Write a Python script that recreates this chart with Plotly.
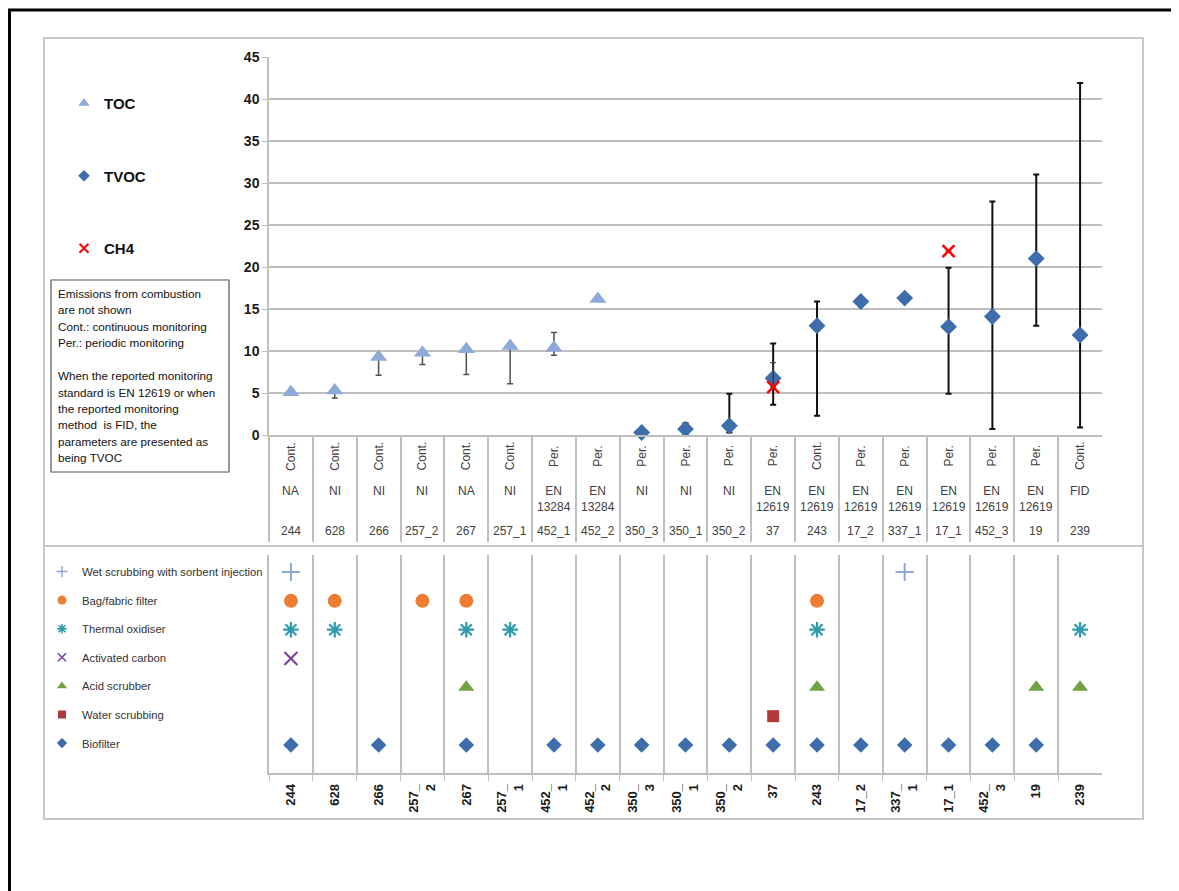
import plotly.graph_objects as go

W, H = 1179, 891
OFF = 8  # page body margin

def px(x):
    return (x - OFF) / W

def py(y):
    return 1 - (y - OFF) / H

# ---------------- data ----------------
ids = ["244", "628", "266", "257_2", "267", "257_1", "452_1", "452_2", "350_3", "350_1",
       "350_2", "37", "243", "17_2", "337_1", "17_1", "452_3", "19", "239"]
monitoring = ["Cont.", "Cont.", "Cont.", "Cont.", "Cont.", "Cont.", "Per.", "Per.", "Per.", "Per.",
              "Per.", "Per.", "Cont.", "Per.", "Per.", "Per.", "Per.", "Per.", "Cont."]
methods = ["NA", "NI", "NI", "NI", "NA", "NI", "EN<br>13284", "EN<br>13284", "NI", "NI",
           "NI", "EN<br>12619", "EN<br>12619", "EN<br>12619", "EN<br>12619", "EN<br>12619",
           "EN<br>12619", "EN<br>12619", "FID"]
bottom_ticks = ["244", "628", "266", "257_<br>2", "267", "257_<br>1", "452_<br>1", "452_<br>2",
                "350_<br>3", "350_<br>1", "350_<br>2", "37", "243", "17_2", "337_<br>1", "17_1",
                "452_<br>3", "19", "239"]

toc_ids = ["244", "628", "266", "257_2", "267", "257_1", "452_1", "452_2"]
toc_vals = [5.1, 5.3, 9.3, 9.8, 10.2, 10.6, 10.4, 16.2]
toc_plus = [None, 0, 0, 0, 0, 0, 1.8, None]
toc_minus = [None, 0.9, 2.2, 1.4, 3.0, 4.5, 0.9, None]

tvoc_ids = ["350_3", "350_1", "350_2", "37", "243", "17_2", "337_1", "17_1", "452_3", "19", "239"]
tvoc_vals = [0.3, 0.7, 1.1, 6.75, 13.0, 15.9, 16.3, 12.9, 14.1, 21.0, 11.9]
tvoc_plus = [None, 0.7, 3.8, 4.15, 2.9, None, None, 7.0, 13.7, 10.0, 30.0]
tvoc_minus = [None, 0.7, 0.8, 3.15, 10.7, None, None, 8.0, 13.4, 8.0, 11.0]

ch4_ids = ["37", "17_1"]
ch4_vals = [5.7, 21.9]
ch4_plus = [2.9, None]
ch4_minus = [0, None]

wet_scrubbing = ["244", "337_1"]
bag_filter = ["244", "628", "257_2", "267", "243"]
thermal_oxidiser = ["244", "628", "267", "257_1", "243", "239"]
activated_carbon = ["244"]
acid_scrubber = ["267", "243", "19", "239"]
water_scrubbing = ["37"]
biofilter = ["244", "266", "267", "452_1", "452_2", "350_3", "350_1", "350_2", "37", "243",
             "17_2", "337_1", "17_1", "452_3", "19"]

tech_rows = ["Biofilter", "Water scrubbing", "Acid scrubber", "Activated carbon",
             "Thermal oxidiser", "Bag/fabric filter", "Wet scrubbing with sorbent injection"]

note_lines = ["Emissions from combustion", "are not shown", "Cont.: continuous monitoring",
              "Per.: periodic monitoring", "", "When the reported monitoring",
              "standard is EN 12619 or when", "the reported monitoring",
              "method  is FID, the", "parameters are presented as", "being TVOC"]

# ---------------- styles ----------------
SANS = "Liberation Sans"
TOC_C = "#8eaadb"
TVOC_C = "#3d6eab"
GRID_C = "#bfbfbf"

def open_mk(symbol, size, color, width):
    return dict(symbol=symbol, size=size, color=color, line=dict(color=color, width=width))

fig = go.Figure()

fig.add_trace(go.Scatter(
    x=toc_ids, y=toc_vals, mode="markers", name="TOC", showlegend=False,
    marker=dict(symbol="triangle-up", size=15, color=TOC_C),
    error_y=dict(type="data", array=toc_plus, arrayminus=toc_minus, color="#505050",
                 thickness=1.5, width=3),
    xaxis="x", yaxis="y", cliponaxis=False))
fig.add_trace(go.Scatter(
    x=tvoc_ids, y=tvoc_vals, mode="markers", name="TVOC", showlegend=False,
    marker=dict(symbol="diamond", size=13, color=TVOC_C),
    error_y=dict(type="data", array=tvoc_plus, arrayminus=tvoc_minus, color="#111111",
                 thickness=2, width=3),
    xaxis="x", yaxis="y", cliponaxis=False))
fig.add_trace(go.Scatter(
    x=ch4_ids, y=ch4_vals, mode="markers", name="CH4", showlegend=False,
    marker=open_mk("x-thin-open", 12, "#ff0000", 2.5),
    error_y=dict(type="data", array=ch4_plus, arrayminus=ch4_minus, color="#333333",
                 thickness=1.2, width=3),
    xaxis="x", yaxis="y", cliponaxis=False))

top_leg = [("TOC", dict(symbol="triangle-up", size=10, color=TOC_C)),
           ("TVOC", dict(symbol="diamond", size=9, color=TVOC_C)),
           ("CH4", open_mk("x-thin-open", 9, "#ff0000", 2))]
for name, mk in top_leg:
    fig.add_trace(go.Scatter(x=[None], y=[None], mode="markers", name=name, marker=mk,
                             legend="legend", legendgroup=name, showlegend=True,
                             xaxis="x", yaxis="y"))

techs = [
    ("Wet scrubbing with sorbent injection", wet_scrubbing,
     open_mk("cross-thin-open", 13, "#8eaadb", 2), open_mk("cross-thin-open", 8, "#8eaadb", 1.5)),
    ("Bag/fabric filter", bag_filter,
     dict(symbol="circle", size=14, color="#ed7d31"), dict(symbol="circle", size=9, color="#ed7d31")),
    ("Thermal oxidiser", thermal_oxidiser,
     open_mk("asterisk-open", 13, "#2e9cae", 2.2), open_mk("asterisk-open", 8, "#2e9cae", 1.6)),
    ("Activated carbon", activated_carbon,
     open_mk("x-thin-open", 13, "#7a3d9e", 2), open_mk("x-thin-open", 8, "#7a3d9e", 1.5)),
    ("Acid scrubber", acid_scrubber,
     dict(symbol="triangle-up", size=14, color="#70a343"), dict(symbol="triangle-up", size=9, color="#70a343")),
    ("Water scrubbing", water_scrubbing,
     dict(symbol="square", size=12, color="#b03a3a"), dict(symbol="square", size=8, color="#b03a3a")),
    ("Biofilter", biofilter,
     dict(symbol="diamond", size=12, color=TVOC_C), dict(symbol="diamond", size=8, color=TVOC_C)),
]
for name, xs, mk, lmk in techs:
    fig.add_trace(go.Scatter(x=xs, y=[name] * len(xs), mode="markers", name=name,
                             marker=mk, showlegend=False, xaxis="x2", yaxis="y2",
                             cliponaxis=False))
for name, xs, mk, lmk in techs:
    fig.add_trace(go.Scatter(x=[None], y=[None], mode="markers", name=name, marker=lmk,
                             legend="legend2", legendgroup="b_" + name, showlegend=True,
                             xaxis="x2", yaxis="y2"))

# ---------------- annotations (category table) ----------------
TFONT = dict(family=SANS, size=12, color="#404040")
ann = []
for i, cid in enumerate(ids):
    ann.append(dict(x=i, xref="x", y=py(456), yref="paper", text=monitoring[i],
                    textangle=-90, showarrow=False, xanchor="center", yanchor="middle",
                    font=TFONT))
    ann.append(dict(x=i, xref="x", y=py(482), yref="paper", text=methods[i],
                    showarrow=False, xanchor="center", yanchor="top", font=TFONT))
    ann.append(dict(x=i, xref="x", y=py(531), yref="paper", text=cid,
                    showarrow=False, xanchor="center", yanchor="middle", font=TFONT))

# note box, one annotation per line for Excel-like line spacing
for k, line in enumerate(note_lines):
    if not line:
        continue
    ann.append(dict(x=px(56), y=py(293.3 + 16.45 * k), xref="paper", yref="paper", text=line,
                    showarrow=False, xanchor="left", yanchor="middle", align="left",
                    font=dict(family=SANS, size=11.7, color="#111111")))

shapes = [
    dict(type="rect", xref="paper", yref="paper", x0=1.5 / W, x1=1.05, y0=-0.05, y1=py(10),
         line=dict(color="black", width=3)),
    dict(type="rect", xref="paper", yref="paper", x0=px(44), x1=px(1143), y0=py(819), y1=py(38),
         line=dict(color="#c8c8c8", width=2)),
    dict(type="line", xref="paper", yref="paper", x0=px(44), x1=px(1143), y0=py(546), y1=py(546),
         line=dict(color="#c8c8c8", width=2)),
    dict(type="rect", xref="paper", yref="paper", x0=px(51), x1=px(229), y0=py(472), y1=py(280),
         line=dict(color="#555555", width=1.2)),
]

XDOM = [px(269), px(1102)]

fig.update_layout(
    width=W, height=H,
    margin=dict(l=0, r=0, t=0, b=0, autoexpand=False),
    paper_bgcolor="white", plot_bgcolor="white",
    showlegend=True,
    xaxis=dict(domain=XDOM, anchor="y", type="category", categoryorder="array",
               categoryarray=ids, range=[-0.5, 18.5], showticklabels=False,
               showgrid=False, zeroline=False, tickson="boundaries",
               ticks="outside", ticklen=105, tickcolor=GRID_C, tickwidth=1.5,
               showline=True, linecolor=GRID_C, linewidth=1.5),
    yaxis=dict(domain=[py(435), py(57)], anchor="x", range=[0, 45], dtick=5,
               showgrid=True, gridcolor=GRID_C, gridwidth=1.5, zeroline=False,
               showline=True, linecolor=GRID_C, linewidth=1.5,
               ticks="outside", ticklen=5, tickcolor=GRID_C,
               tickfont=dict(family=SANS, size=14, color="#1a1a1a", weight="bold")),
    xaxis2=dict(domain=XDOM, anchor="y2", type="category", categoryorder="array",
                categoryarray=ids, range=[-0.5, 18.5], tickvals=ids, ticktext=bottom_ticks,
                tickangle=-90, showgrid=True, gridcolor=GRID_C, gridwidth=1.5,
                tickson="boundaries", ticks="outside", ticklen=6, tickcolor=GRID_C,
                ticklabelstandoff=4,
                showline=True, linecolor=GRID_C, linewidth=1.5, zeroline=False,
                tickfont=dict(family=SANS, size=13, color="#1a1a1a", weight="bold")),
    yaxis2=dict(domain=[py(773), py(555)], anchor="x2", type="category",
                categoryorder="array", categoryarray=tech_rows, range=[-0.97, 6.59],
                showticklabels=False, showgrid=False, zeroline=False,
                showline=True, linecolor=GRID_C, linewidth=1.5),
    legend=dict(x=px(64), y=py(87), xanchor="left", yanchor="top", tracegroupgap=50,
                bgcolor="rgba(0,0,0,0)",
                font=dict(family=SANS, size=15, color="#111111", weight="bold")),
    legend2=dict(x=px(42), y=py(557), xanchor="left", yanchor="top", tracegroupgap=9.6,
                 bgcolor="rgba(0,0,0,0)",
                 font=dict(family=SANS, size=11.3, color="#333333")),
    annotations=ann,
    shapes=shapes,
)

fig.write_html("out.html")
